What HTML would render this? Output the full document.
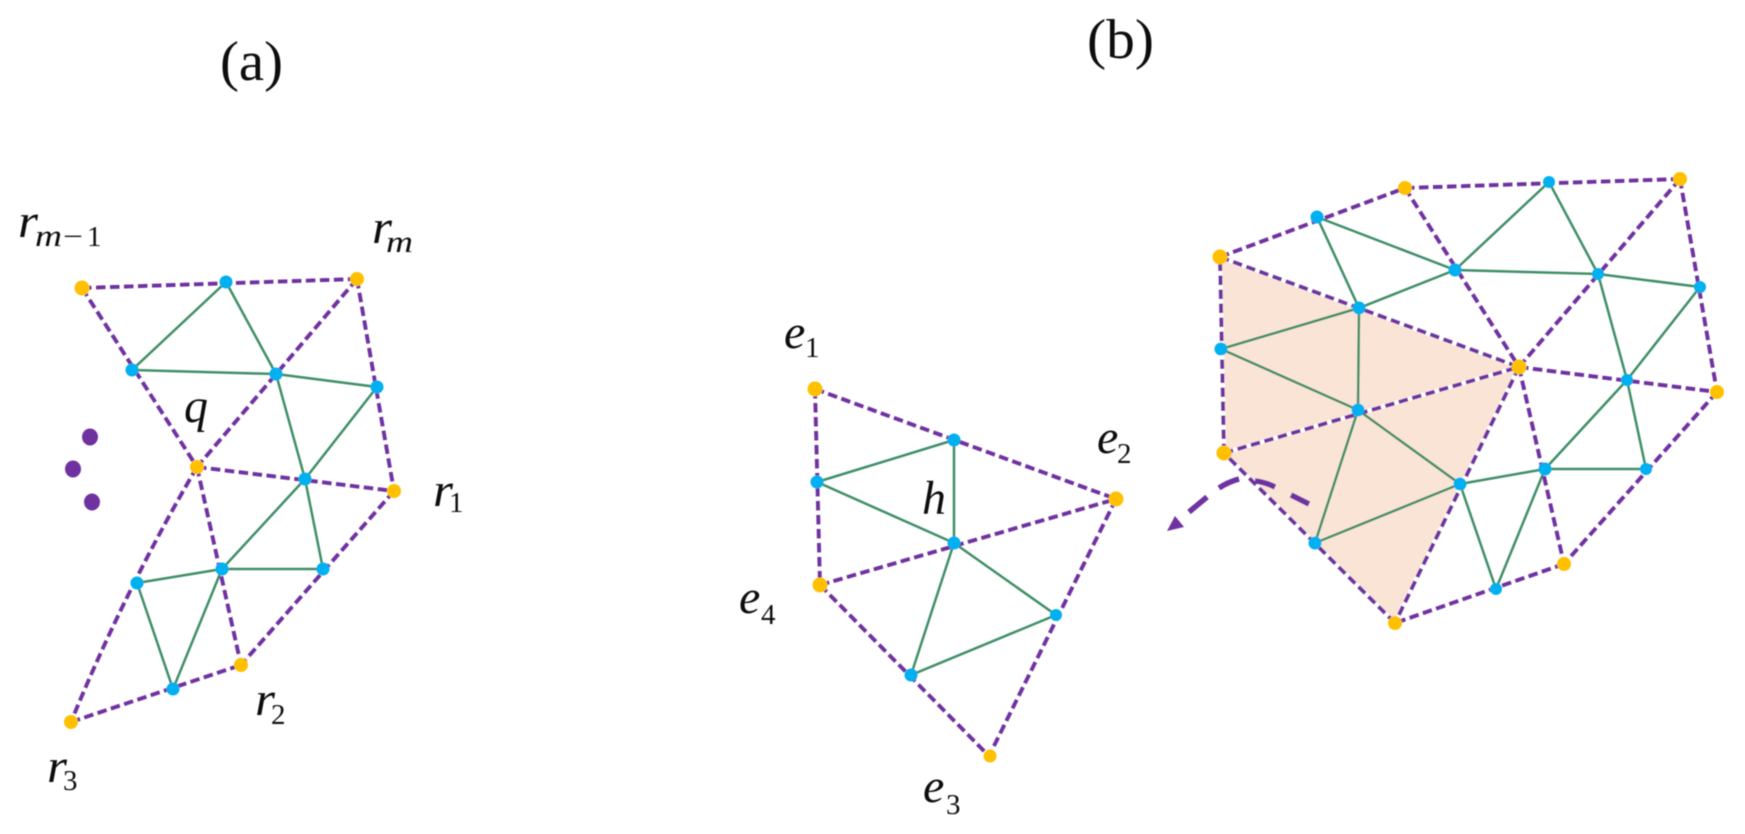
<!DOCTYPE html>
<html><head><meta charset="utf-8"><style>
html,body{margin:0;padding:0;background:#fff}
svg{display:block}
.d{fill:none;stroke:#7030a0;stroke-width:3.9;stroke-dasharray:9.5 4.5}
.w{fill:none;stroke:#fff;stroke-width:4.5}
.g{fill:none;stroke:#3f8f68;stroke-width:2.5}
.y{fill:#ffc000}.b{fill:#00b0f0}
text{font-family:"Liberation Serif",serif;fill:#111}
.i{font-style:italic;font-size:48px}
.s{font-size:29px}
.si{font-style:italic;font-size:31px}
</style></head><body>
<svg width="1745" height="834" viewBox="0 0 1745 834" xmlns="http://www.w3.org/2000/svg">
<defs><filter id="f" x="0" y="0" width="100%" height="100%"><feGaussianBlur stdDeviation="0.5"/></filter></defs>
<rect width="1745" height="834" fill="#fff"/>
<g filter="url(#f)">
<polygon points="1220,257 1519,367 1395,623 1224,453" fill="#f9e4d6"/>
<path class="w" d="M1220,257L1519,367M1224,453L1519,367M1220,257L1224,453M1224,453L1395,623M1519,367L1395,623"/>

<path class="g" d="M226,282L132,370L276,374L226,282M276,374L377,387L305,479L276,374M305,479L222,569L323,569L305,479M222,569L137,583L173,689L222,569"/>
<path class="d" d="M82,288L357,279"/>
<path class="d" d="M82,288L197,467"/>
<path class="d" d="M357,279L197,467"/>
<path class="d" d="M357,279L394,491"/>
<path class="d" d="M197,467L394,491"/>
<path class="d" d="M197,467Q125,590 71,722"/>
<path class="d" d="M197,467L241,665"/>
<path class="d" d="M394,491L241,665"/>
<path class="d" d="M71,722L241,665"/>

<path class="g" d="M954,440L817,482L954,543L954,440M954,543L911,675L1056,615L954,543"/>
<path class="d" d="M815,389L1116,499"/>
<path class="d" d="M815,389L820,585"/>
<path class="d" d="M820,585L1116,499"/>
<path class="d" d="M1116,499L989,756"/>
<path class="d" d="M820,585L989,756"/>

<path class="g" d="M1317,217L1359,308L1455,270L1317,217M1455,270L1549,182L1598,274L1455,270M1598,274L1700,287L1627,380L1598,274M1359,308L1221,349L1358,410L1359,308M1358,410L1315,543L1460,484L1358,410M1460,484L1545,469L1496,589L1460,484M1545,469L1646,469L1627,380L1545,469"/>
<path class="d" d="M1220,257L1405,188"/>
<path class="d" d="M1405,188L1680,179"/>
<path class="d" d="M1680,179L1717,392"/>
<path class="d" d="M1717,392L1564,564"/>
<path class="d" d="M1564,564L1395,623"/>
<path class="d" d="M1395,623L1224,453"/>
<path class="d" d="M1224,453L1220,257"/>
<path class="d" d="M1220,257L1519,367"/>
<path class="d" d="M1224,453L1519,367"/>
<path class="d" d="M1519,367L1395,623"/>
<path class="d" d="M1405,188L1519,367"/>
<path class="d" d="M1680,179L1519,367"/>
<path class="d" d="M1519,367L1717,392"/>
<path class="d" d="M1519,367L1564,564"/>

<g fill="none" stroke="#7030a0" stroke-width="5.5">
<path d="M1309,504L1291,495"/>
<path d="M1275,487Q1265,482 1255,481"/>
<path d="M1239,479Q1228,482 1219,488"/>
<path d="M1207,497L1189,512"/>
</g>
<polygon points="1167,531 1175,516 1184,527" fill="#7030a0"/>

<g fill="#7030a0">
<ellipse cx="90" cy="437" rx="8" ry="8.5"/><ellipse cx="73" cy="469" rx="8" ry="8.5"/><ellipse cx="92" cy="502" rx="8" ry="8.5"/>
</g>

<g class="y">
<circle cx="82" cy="288" r="7.5"/><circle cx="357" cy="279" r="7"/><circle cx="197" cy="467" r="7"/><circle cx="394" cy="491" r="7"/><circle cx="241" cy="665" r="7"/><circle cx="71" cy="722" r="7"/>
<circle cx="815" cy="389" r="7.5"/><circle cx="1116" cy="499" r="7.5"/><circle cx="820" cy="585" r="7.5"/><circle cx="990" cy="756" r="6.5"/>
<circle cx="1220" cy="257" r="7.5"/><circle cx="1405" cy="188" r="7"/><circle cx="1680" cy="179" r="7"/><circle cx="1519" cy="367" r="7.5"/><circle cx="1717" cy="392" r="7"/><circle cx="1224" cy="453" r="7.5"/><circle cx="1395" cy="623" r="7"/><circle cx="1564" cy="564" r="7"/>
</g>
<g class="b">
<circle cx="226" cy="282" r="6.5"/><circle cx="132" cy="370" r="6.5"/><circle cx="276" cy="374" r="6.5"/><circle cx="377" cy="387" r="6.5"/><circle cx="305" cy="479" r="6.5"/><circle cx="222" cy="569" r="6.5"/><circle cx="323" cy="569" r="6.5"/><circle cx="137" cy="583" r="6.5"/><circle cx="173" cy="689" r="6.5"/>
<circle cx="954" cy="440" r="6.5"/><circle cx="817" cy="482" r="6.5"/><circle cx="954" cy="543" r="6.5"/><circle cx="1056" cy="615" r="6"/><circle cx="911" cy="675" r="6.5"/>
<circle cx="1317" cy="217" r="6.5"/><circle cx="1549" cy="182" r="6"/><circle cx="1455" cy="270" r="6.5"/><circle cx="1598" cy="274" r="6"/><circle cx="1700" cy="287" r="6"/><circle cx="1359" cy="308" r="6.5"/><circle cx="1221" cy="349" r="6.5"/><circle cx="1627" cy="380" r="6"/><circle cx="1358" cy="410" r="6.5"/><circle cx="1460" cy="484" r="6.5"/><circle cx="1545" cy="469" r="6.5"/><circle cx="1646" cy="469" r="6"/><circle cx="1315" cy="543" r="6.5"/><circle cx="1496" cy="589" r="6"/>
</g>

<text x="220" y="80" font-size="56" textLength="63" lengthAdjust="spacingAndGlyphs">(a)</text>
<text x="1087" y="58" font-size="56" textLength="67" lengthAdjust="spacingAndGlyphs">(b)</text>

<text class="i" x="18" y="237" textLength="20" lengthAdjust="spacingAndGlyphs">r</text><text class="si" x="35" y="246" textLength="27" lengthAdjust="spacingAndGlyphs">m</text><text class="s" x="63" y="246" textLength="20" lengthAdjust="spacingAndGlyphs">−</text><text class="s" x="87" y="246">1</text>
<text class="i" x="372" y="243" textLength="20" lengthAdjust="spacingAndGlyphs">r</text><text class="si" x="386" y="252" textLength="27" lengthAdjust="spacingAndGlyphs">m</text>
<text class="i" x="184" y="422">q</text>
<text class="i" x="433" y="506" textLength="20" lengthAdjust="spacingAndGlyphs">r</text><text class="s" x="449" y="512">1</text>
<text class="i" x="255" y="715" textLength="20" lengthAdjust="spacingAndGlyphs">r</text><text class="s" x="271" y="724">2</text>
<text class="i" x="47" y="782" textLength="20" lengthAdjust="spacingAndGlyphs">r</text><text class="s" x="63" y="790">3</text>
<text class="i" x="784" y="348">e</text><text class="s" x="805" y="357">1</text>
<text class="i" x="1097" y="453">e</text><text class="s" x="1117" y="463">2</text>
<text class="i" x="923" y="802">e</text><text class="s" x="946" y="814">3</text>
<text class="i" x="739" y="613">e</text><text class="s" x="761" y="624">4</text>
<text class="i" x="922" y="514">h</text>
</g>
</svg>
</body></html>
